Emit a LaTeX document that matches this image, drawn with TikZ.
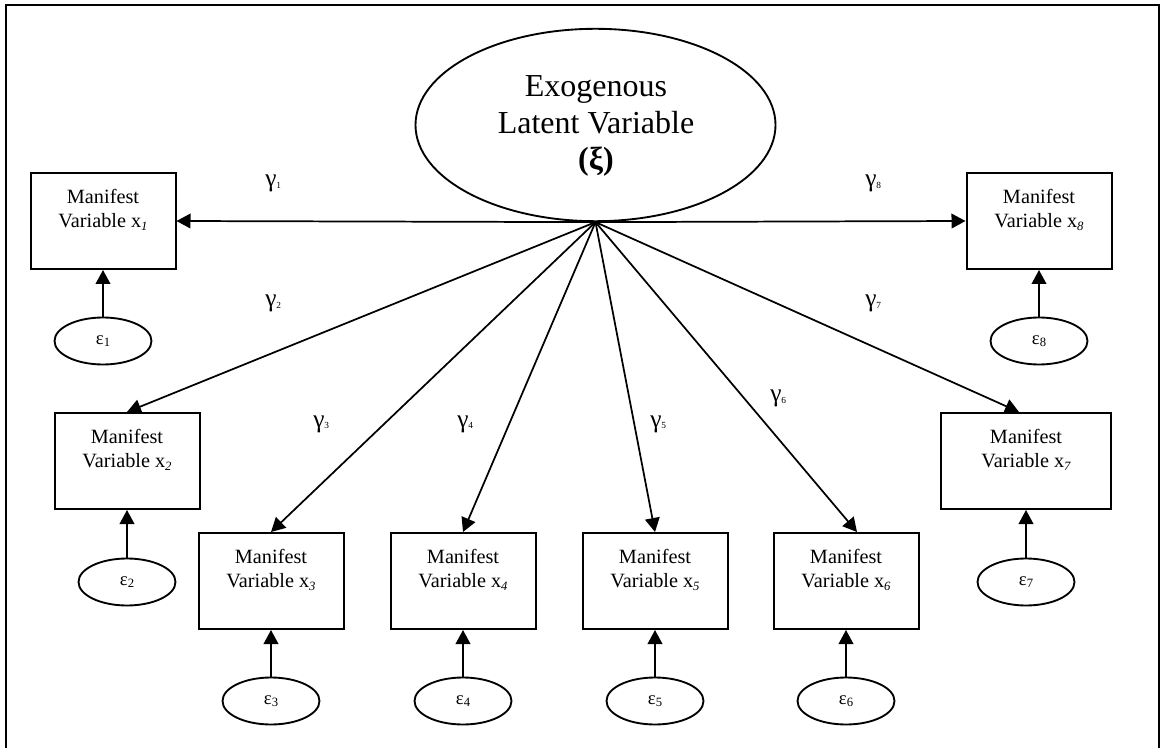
\documentclass[tikz,border=0pt]{standalone}
\usepackage{fontspec}
\setmainfont{Liberation Serif}
\usetikzlibrary{arrows.meta,shapes.geometric,calc}

% small lowered index, upright or italic
\newcommand{\lowidx}[1]{\raisebox{-0.3ex}{\fontsize{9.5}{10}\selectfont #1}}
\newcommand{\gidx}[1]{\raisebox{-0.1ex}{\fontsize{7}{8}\selectfont #1}}

\begin{document}
\begin{tikzpicture}[x=0.75pt,y=-0.75pt,
  frameline/.style={line width=1.5pt},
  mbox/.style={draw, rectangle, line width=1.5pt, minimum width=108.75pt,
    minimum height=72pt, inner sep=0pt},
  mtext/.style={anchor=north, align=center, inner sep=0pt,
    font=\fontsize{15.2}{18}\selectfont},
  errnode/.style={draw, ellipse, line width=1.4pt, minimum width=72.75pt,
    minimum height=35.25pt, inner sep=0pt, font=\fontsize{14}{16}\selectfont},
  link/.style={-{Triangle[length=10.5pt,width=11pt]}, line width=1.3pt},
  glab/.style={anchor=base west, inner sep=0pt, font=\fontsize{19}{22}\selectfont}
]
\useasboundingbox (0,0) rectangle (1160,748);

% outer frame, open at the bottom
\draw[frameline] (5.5,760) -- (5.5,5.5) -- (1158.5,5.5) -- (1158.5,760);

% latent variable
\node[draw, ellipse, line width=1.4pt, minimum width=270pt, minimum height=144.3pt,
  inner sep=0pt] (L) at (595.5,125) {};
\node[align=center, inner sep=0pt, font=\fontsize{24}{27.5}\selectfont] (Ltext)
  at (596,126) {Exogenous\\Latent Variable\\\textbf{(ξ)}};

% manifest variables
\node[mbox] (x1) at (103,221) {};
\node[mbox] (x8) at (1039,221) {};
\node[mbox] (x2) at (127,461) {};
\node[mbox, minimum width=127.5pt] (x7) at (1026,461) {};
\node[mbox] (x3) at (271,581) {};
\node[mbox] (x4) at (463,581) {};
\node[mbox] (x5) at (655,581) {};
\node[mbox] (x6) at (846,581) {};

\foreach \k in {1,...,8}{
  \node[mtext] (t\k) at ($(x\k.north)+(0,17)$)
    {Manifest\\Variable x\lowidx{\itshape\k}};
}

% error terms
\node[errnode] (e1) at (103,341) {ε\lowidx{1}};
\node[errnode] (e8) at (1039,341) {ε\lowidx{8}};
\node[errnode] (e2) at (127,582) {ε\lowidx{2}};
\node[errnode] (e7) at (1026,582) {ε\lowidx{7}};
\node[errnode] (e3) at (271,701) {ε\lowidx{3}};
\node[errnode] (e4) at (463,701) {ε\lowidx{4}};
\node[errnode] (e5) at (655,701) {ε\lowidx{5}};
\node[errnode] (e6) at (846,701) {ε\lowidx{6}};

\foreach \k in {1,...,8}{
  \draw[link] (e\k.north) -- (x\k.south);
}

% loadings
\draw[link] (L.south) -- (x1.east);
\draw[link] (L.south) -- (x8.west);
\draw[link] (L.south) -- (x2.north);
\draw[link] (L.south) -- (x3.north);
\draw[link] (L.south) -- (x4.north);
\draw[link] (L.south) -- (x5.north);
\draw[link] (L.south) -- ($(x6.north)+(11,0)$);
\draw[link] (L.south) -- ($(x7.north)+(-7,0)$);

% loading labels
\node[glab] (g1) at (265,187) {γ\gidx{1}};
\node[glab] (g8) at (865,187) {γ\gidx{8}};
\node[glab] (g2) at (265,307) {γ\gidx{2}};
\node[glab] (g7) at (865,307) {γ\gidx{7}};
\node[glab] (g3) at (313,427) {γ\gidx{3}};
\node[glab] (g4) at (457,427) {γ\gidx{4}};
\node[glab] (g5) at (650,427) {γ\gidx{5}};
\node[glab] (g6) at (770,402) {γ\gidx{6}};
\end{tikzpicture}
\end{document}
